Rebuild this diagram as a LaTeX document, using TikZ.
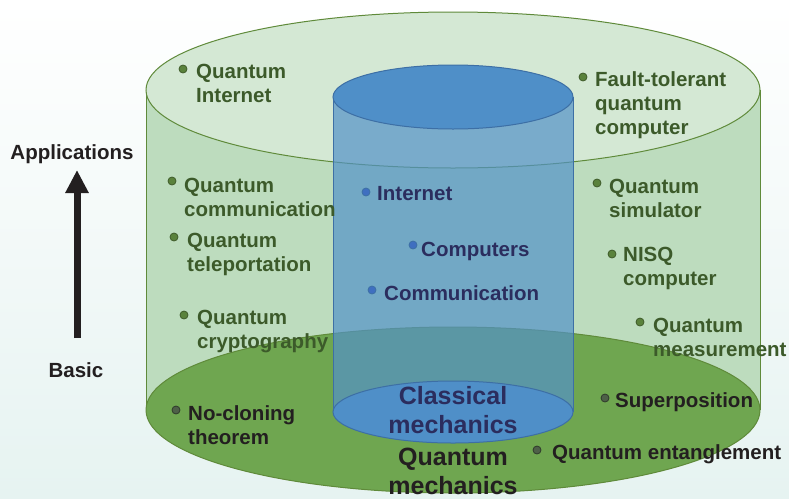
\documentclass[tikz,border=0pt]{standalone}
\usepackage{fontspec}
\setmainfont{Liberation Sans}
\usetikzlibrary{arrows.meta}

\definecolor{bgbottom}{RGB}{230,243,241}
\definecolor{outerbody}{RGB}{189,220,190}
\definecolor{outertop}{RGB}{212,232,212}
\definecolor{outerbase}{RGB}{111,166,80}
\definecolor{outerline}{RGB}{95,138,58}
\definecolor{innerfill}{RGB}{83,146,200}
\definecolor{innercap}{RGB}{79,143,200}
\definecolor{innerline}{RGB}{61,111,165}
\definecolor{greentext}{RGB}{60,90,42}
\definecolor{navytext}{RGB}{43,45,94}
\definecolor{darktext}{RGB}{35,31,32}
\definecolor{greendot}{RGB}{90,130,60}
\definecolor{greydot}{RGB}{78,96,72}
\definecolor{bluedot}{RGB}{63,111,192}

% two stacked lines, baseline at the first one
\newcommand{\twolines}[2]{\vtop{\hbox{#1}\hbox{#2}}}
\newcommand{\threelines}[3]{\vtop{\hbox{#1}\hbox{#2}\hbox{#3}}}
\newcommand{\twocentered}[2]{\vtop{\halign{\hfil##\hfil\cr #1\cr #2\cr}}}

\begin{document}
\begin{tikzpicture}[x=1pt,y=-1pt,
  lbl/.style={anchor=base west, inner sep=0pt, font=\bfseries\fontsize{20.5}{24}\selectfont},
  glbl/.style={lbl, text=greentext},
  dlbl/.style={lbl, text=darktext},
  blbl/.style={lbl, text=navytext},
  axislbl/.style={anchor=base, inner sep=0pt, text=darktext, font=\bfseries\fontsize{20.5}{24}\selectfont},
  biglbl/.style={anchor=base, inner sep=0pt, font=\bfseries\fontsize{25}{29}\selectfont},
  bullet/.style={circle, inner sep=0pt, minimum size=8pt, line width=0.8pt},
  gdot/.style={bullet, fill=greendot, draw=greendot!70!black},
  kdot/.style={bullet, fill=greydot, draw=greydot!60!black},
  bdot/.style={bullet, fill=bluedot, draw=innerline},
]
\useasboundingbox (0,0) rectangle (789,498);
\shade[top color=white, bottom color=bgbottom] (0,0) rectangle (789,498);

% outer cylinder: body, base and lid
\fill[outerbody] (146,90) rectangle (760,410);
\draw[outerline, line width=1pt] (146,90) -- (146,410) (760,90) -- (760,410);
\draw[outerline, line width=1pt, fill=outerbase] (453,410) ellipse [x radius=307, y radius=83];
\draw[outerline, line width=1pt, fill=outertop] (453,90) ellipse [x radius=307, y radius=78];

% inner cylinder: translucent body, solid lid and base
\fill[innerfill, fill opacity=0.7] (333,97) rectangle (573,412);
\draw[innerline, line width=1pt] (333,97) -- (333,412) (573,97) -- (573,412);
\draw[innerline, line width=1pt, fill=innercap] (453,412) ellipse [x radius=120, y radius=31];
\draw[innerline, line width=1pt, fill=innercap] (453,97) ellipse [x radius=120, y radius=32];

% axis from basic to applications
\node[axislbl] (apps) at (72,159) {Applications};
\node[axislbl] (basic) at (76,377) {Basic};
\coordinate (arrowfoot) at (77,338);
\coordinate (arrowtip) at (77,170);
\draw[darktext, line width=7pt, -{Triangle[width=22pt,length=23pt]}] (arrowfoot) -- (arrowtip);

% quantum applications (left)
\node[gdot] (dqi) at (183,69) {};
\node[glbl] (qi) at (196,78) {\twolines{Quantum}{Internet}};
\node[gdot] (dqc) at (172,181) {};
\node[glbl] (qc) at (184,192) {\twolines{Quantum}{communication}};
\node[gdot] (dqt) at (174,237) {};
\node[glbl] (qt) at (187,247) {\twolines{Quantum}{teleportation}};
\node[gdot] (dqy) at (184,315) {};
\node[glbl] (qy) at (197,324) {\twolines{Quantum}{cryptography}};
\node[kdot] (dnc) at (176,410) {};
\node[dlbl] (nc) at (188,420) {\twolines{No-cloning}{theorem}};

% quantum applications (right)
\node[gdot] (dft) at (583,77) {};
\node[glbl] (ft) at (595,86) {\threelines{Fault-tolerant}{quantum}{computer}};
\node[gdot] (dqs) at (597,183) {};
\node[glbl] (qs) at (609,193) {\twolines{Quantum}{simulator}};
\node[gdot] (dnq) at (612,254) {};
\node[glbl] (nq) at (623,261) {\twolines{NISQ}{computer}};
\node[gdot] (dqm) at (640,322) {};
\node[glbl] (qm) at (653,332) {\twolines{Quantum}{measurement}};
\node[kdot] (dsp) at (605,398) {};
\node[dlbl] (sp) at (615,407) {Superposition};
\node[kdot] (dqe) at (537,450) {};
\node[dlbl] (qe) at (552,459) {Quantum entanglement};

% classical applications
\node[bdot] (dint) at (366,192) {};
\node[blbl] (int) at (377,200) {Internet};
\node[bdot] (dcomp) at (413,245) {};
\node[blbl] (comp) at (421,256) {Computers};
\node[bdot] (dcomm) at (372,290) {};
\node[blbl] (comm) at (384,300) {Communication};

% foundations
\node[biglbl, text=navytext] (cm) at (453,404) {\twocentered{Classical}{mechanics}};
\node[biglbl, text=darktext] (qmech) at (453,465) {\twocentered{Quantum}{mechanics}};
\end{tikzpicture}
\end{document}
